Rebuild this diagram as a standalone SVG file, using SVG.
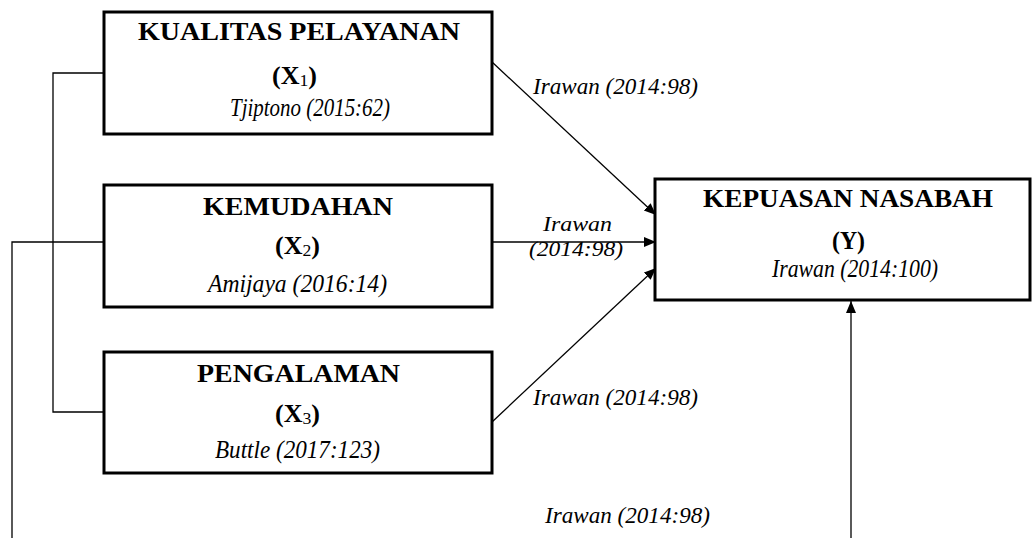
<svg xmlns="http://www.w3.org/2000/svg" width="1033" height="538" viewBox="0 0 1033 538">
<style>
.box{fill:#fff;stroke:#000;stroke-width:3}
.b{font-family:'Liberation Serif','Times New Roman',serif;font-weight:700;font-size:25px;fill:#000}
.i{font-family:'Liberation Serif','Times New Roman',serif;font-style:italic;font-weight:400;font-size:25px;fill:#000}
.l{font-family:'Liberation Serif','Times New Roman',serif;font-style:italic;font-weight:400;font-size:24px;fill:#000}
.m{font-family:'Liberation Serif','Times New Roman',serif;font-style:italic;font-weight:400;font-size:21px;fill:#000}
.s{font-size:17px;font-weight:400}
.c{fill:none;stroke:#000;stroke-width:1.3}
</style>
<defs>
<marker id="ah" markerUnits="userSpaceOnUse" markerWidth="13" markerHeight="11" refX="12" refY="5" orient="auto">
<path d="M0,0 L12,5 L0,10 z" fill="#000"/>
</marker>
</defs>
<rect width="1033" height="538" fill="#fff"/>
<g id="connectors">
<polyline class="c" points="104,73 53,73 53,412 104,412"/>
<polyline class="c" points="104,242 12,242 12,538"/>
<line class="c" x1="492" y1="62" x2="656" y2="215" marker-end="url(#ah)"/>
<line class="c" x1="492" y1="242" x2="656" y2="242" marker-end="url(#ah)"/>
<line class="c" x1="492" y1="422" x2="656" y2="268" marker-end="url(#ah)"/>
<line class="c" x1="851" y1="538" x2="851" y2="301" marker-end="url(#ah)"/>
<text class="l" x="533" y="94" textLength="165" lengthAdjust="spacingAndGlyphs">Irawan (2014:98)</text>
<text class="m" x="543" y="231" textLength="69" lengthAdjust="spacingAndGlyphs">Irawan</text>
<text class="m" x="529" y="256" textLength="94" lengthAdjust="spacingAndGlyphs">(2014:98)</text>
<text class="l" x="533" y="405" textLength="165" lengthAdjust="spacingAndGlyphs">Irawan (2014:98)</text>
<text class="l" x="545" y="523" textLength="165" lengthAdjust="spacingAndGlyphs">Irawan (2014:98)</text>
</g>
<g id="x1">
<rect class="box" x="104" y="12" width="388" height="122"/>
<text class="b" x="138" y="40" textLength="322" lengthAdjust="spacingAndGlyphs">KUALITAS PELAYANAN</text>
<text class="b" x="272" y="84" textLength="45" lengthAdjust="spacingAndGlyphs">(X<tspan class="s" dy="2">1</tspan><tspan dy="-2">)</tspan></text>
<text class="i" x="230" y="116" textLength="160" lengthAdjust="spacingAndGlyphs">Tjiptono (2015:62)</text>
</g>
<g id="x2">
<rect class="box" x="104" y="185" width="388" height="122"/>
<text class="b" x="203" y="215" textLength="190" lengthAdjust="spacingAndGlyphs">KEMUDAHAN</text>
<text class="b" x="275" y="254" textLength="45" lengthAdjust="spacingAndGlyphs">(X<tspan class="s" dy="2">2</tspan><tspan dy="-2">)</tspan></text>
<text class="i" x="208" y="292" textLength="179" lengthAdjust="spacingAndGlyphs">Amijaya (2016:14)</text>
</g>
<g id="x3">
<rect class="box" x="104" y="352" width="388" height="121"/>
<text class="b" x="197" y="382" textLength="203" lengthAdjust="spacingAndGlyphs">PENGALAMAN</text>
<text class="b" x="275" y="422" textLength="45" lengthAdjust="spacingAndGlyphs">(X<tspan class="s" dy="2">3</tspan><tspan dy="-2">)</tspan></text>
<text class="i" x="215" y="458" textLength="165" lengthAdjust="spacingAndGlyphs">Buttle (2017:123)</text>
</g>
<g id="y">
<rect class="box" x="655" y="179" width="375" height="121"/>
<text class="b" x="703" y="207" textLength="290" lengthAdjust="spacingAndGlyphs">KEPUASAN NASABAH</text>
<text class="b" x="832" y="249" textLength="33" lengthAdjust="spacingAndGlyphs">(Y)</text>
<text class="i" x="772" y="277" textLength="166" lengthAdjust="spacingAndGlyphs">Irawan (2014:100)</text>
</g>
</svg>
